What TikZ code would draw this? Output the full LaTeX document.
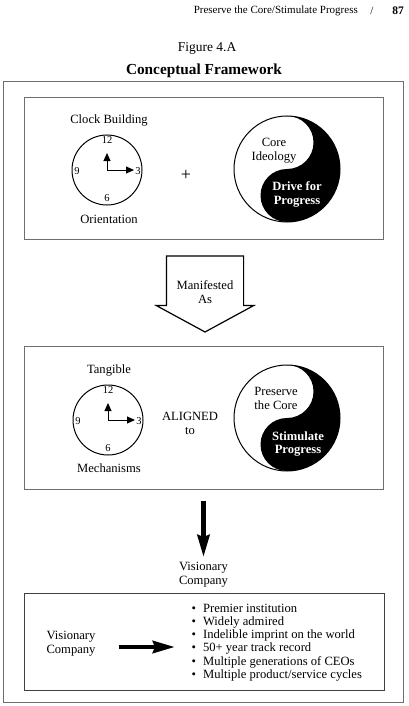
\documentclass[tikz,border=0pt]{standalone}
\usepackage{fontspec}
\setmainfont{Liberation Serif}
\usetikzlibrary{shapes.arrows, arrows.meta}
\definecolor{rulegray}{RGB}{110, 110, 110}
\tikzset{
    txt/.style={align=center, inner sep=0pt, font=\fontsize{12.6}{13.5}\selectfont},
    whitetxt/.style={txt, text=white, font=\fontsize{12.6}{13.5}\selectfont\bfseries},
    num/.style={inner sep=0pt, font=\fontsize{10.5}{11}\selectfont},
    panel/.style={rectangle, draw=rulegray, line width=0.9pt, inner sep=0pt, outer sep=0pt},
    face/.style={circle, draw=black, line width=1pt, minimum size=70pt, inner sep=0pt, outer sep=0pt},
    disc/.style={circle, draw=black, line width=1pt, minimum size=106pt, inner sep=0pt, outer sep=0pt},
    hand/.style={-{Triangle[length=8pt, width=7pt]}, line width=1pt, black},
    bigarr/.style={-{Stealth[length=22pt, width=12pt, inset=2pt]}, line width=4.5pt, black},
    wideblock/.style={single arrow, shape border rotate=270, draw=black, line width=1.2pt, fill=white,
        text width=54pt, inner xsep=11pt, inner ysep=0pt, minimum height=76pt,
        single arrow head extend=10pt, single arrow head indent=0pt, single arrow tip angle=123},
    clockface/.pic={
        \node[face] (-rim) at (0,0) {};
        \node[num] (-twelve) at (0,-30) {12};
        \node[num] (-three) at (31,1) {3};
        \node[num] (-six) at (0,28) {6};
        \node[num] (-nine) at (-30,1) {9};
        \coordinate (-pivot) at (0,0);
        \coordinate (-up) at (0,-17);
        \coordinate (-right) at (27,0);
        \draw[hand] (-pivot) -- (-up);
        \draw[hand] (-pivot) -- (-right);
    },
    yinyang/.pic={
        \fill[black] (0,-53) arc (-90:90:53) arc (90:270:26.5) arc (90:-90:26.5) -- cycle;
        \node[disc] (-rim) at (0,0) {};
    }
}

\begin{document}
\begin{tikzpicture}[x=1pt, y=-1pt]
    \useasboundingbox (0,0) rectangle (408,706);

    \node[txt, anchor=east, font=\fontsize{11}{12}\selectfont] (running) at (358,10.5) {Preserve the Core/Stimulate Progress};
    \node[txt, font=\fontsize{11}{12}\selectfont] (slash) at (372,10.5) {/};
    \node[txt, font=\fontsize{11.5}{12}\selectfont\bfseries] (folio) at (398,10.5) {87};
    \node[txt, font=\fontsize{13.5}{14}\selectfont] (figno) at (207,48) {Figure 4.A};
    \node[txt, font=\fontsize{15.3}{16}\selectfont\bfseries] (title) at (204,71) {Conceptual Framework};

    \node[panel, minimum width=400pt, minimum height=621pt] (frame) at (203,391.5) {};
    \node[panel, minimum width=359pt, minimum height=142pt] (topbox) at (203.5,168) {};
    \node[panel, minimum width=359pt, minimum height=143pt] (midbox) at (203.5,417.5) {};
    \node[panel, draw=black!75, minimum width=360pt, minimum height=97pt] (lowbox) at (204,642) {};

    \pic (clocka) at (107,170) {clockface};
    \pic (yina) at (287,169) {yinyang};
    \node[txt] (clockb) at (109,120) {Clock Building};
    \node[txt] (orient) at (109,219) {Orientation};
    \node[txt, font=\fontsize{18}{18}\selectfont] (plus) at (186,175.5) {+};
    \node[txt] (ideology) at (274,150.5) {Core\\Ideology};
    \node[whitetxt] (drive) at (297,194.5) {Drive for\\Progress};

    \node[wideblock] (manifest) at (205,283.5) {};
    \node[txt] (manifestlbl) at (205,292) {Manifested\\As};

    \pic (clockc) at (108,420) {clockface};
    \pic (yinb) at (287,418) {yinyang};
    \node[txt] (tangible) at (109,370) {Tangible};
    \node[txt] (mech) at (109,468) {Mechanisms};
    \node[txt] (aligned) at (190,423.5) {ALIGNED\\to};
    \node[txt] (preserve) at (276,398.5) {Preserve\\the Core};
    \node[whitetxt] (stim) at (298,444) {Stimulate\\Progress};

    \node[txt] (visco) at (203.5,574.5) {Visionary\\Company};
    \node[txt] (visleft) at (71,643.5) {Visionary\\Company};
    \node[txt, align=left, font=\fontsize{12.6}{13.2}\selectfont] (traits) at (276.8,642.5) {%
        \textbullet\hspace{7pt}Premier institution\\
        \textbullet\hspace{7pt}Widely admired\\
        \textbullet\hspace{7pt}Indelible imprint on the world\\
        \textbullet\hspace{7pt}50+ year track record\\
        \textbullet\hspace{7pt}Multiple generations of CEOs\\
        \textbullet\hspace{7pt}Multiple product/service cycles};

    \draw[bigarr, shorten <=12pt, shorten >=5pt] (midbox.south) -- (visco.north);
    \draw[bigarr, shorten <=23pt, shorten >=16.5pt] ([yshift=-3.5pt]visleft.east) -- ([yshift=-4.5pt]traits.west);
\end{tikzpicture}
\end{document}
